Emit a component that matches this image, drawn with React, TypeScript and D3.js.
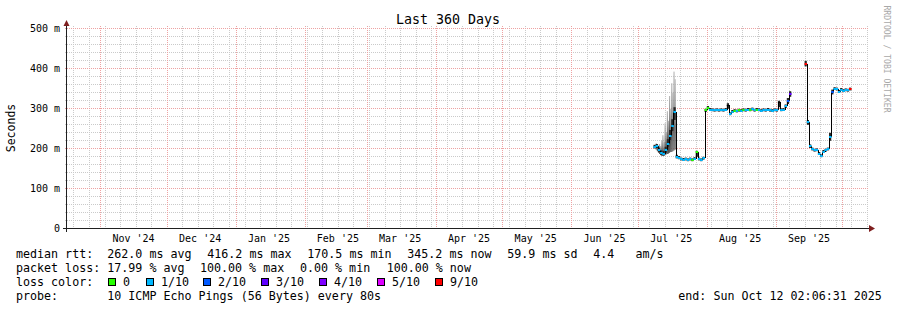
import React from "react";
import * as d3 from "d3";

const START = "2024-10-17T02:06:31Z";
const END = "2025-10-12T02:06:31Z";

const yTickValues = [0, 100, 200, 300, 400, 500];
const yTickLabels = ["0", "100 m", "200 m", "300 m", "400 m", "500 m"];
const yMinorGrid = [20, 40, 60, 80, 120, 140, 160, 180, 220, 240, 260, 280, 320, 340, 360, 380, 420, 440, 460, 480];
const monthStarts = [
  "2024-11-01", "2024-12-01", "2025-01-01", "2025-02-01", "2025-03-01", "2025-04-01",
  "2025-05-01", "2025-06-01", "2025-07-01", "2025-08-01", "2025-09-01", "2025-10-01",
];
const monthLabels = ["Nov '24", "Dec '24", "Jan '25", "Feb '25", "Mar '25", "Apr '25", "May '25", "Jun '25", "Jul '25", "Aug '25", "Sep '25"];

const sampleDates = [
  "2025-07-08", "2025-07-09", "2025-07-10", "2025-07-11", "2025-07-12", "2025-07-13", "2025-07-14", "2025-07-15", "2025-07-16", "2025-07-17",
  "2025-07-18", "2025-07-19", "2025-07-20", "2025-07-21", "2025-07-22", "2025-07-23", "2025-07-24", "2025-07-25", "2025-07-26", "2025-07-27",
  "2025-07-28", "2025-07-29", "2025-07-30",
  "2025-07-31", "2025-08-01", "2025-08-02", "2025-08-03", "2025-08-04", "2025-08-05", "2025-08-06", "2025-08-07", "2025-08-08", "2025-08-09",
  "2025-08-10", "2025-08-11", "2025-08-12", "2025-08-13", "2025-08-14", "2025-08-15", "2025-08-16", "2025-08-17", "2025-08-18", "2025-08-19",
  "2025-08-20", "2025-08-21", "2025-08-22", "2025-08-23", "2025-08-24", "2025-08-25", "2025-08-26", "2025-08-27", "2025-08-28", "2025-08-29",
  "2025-08-30", "2025-08-31", "2025-09-01", "2025-09-02", "2025-09-03", "2025-09-04", "2025-09-05", "2025-09-06", "2025-09-07",
  "2025-09-14", "2025-09-15", "2025-09-16", "2025-09-17", "2025-09-18", "2025-09-19", "2025-09-20", "2025-09-21", "2025-09-22", "2025-09-23",
  "2025-09-24", "2025-09-25", "2025-09-26", "2025-09-27", "2025-09-28", "2025-09-29", "2025-09-30", "2025-10-01", "2025-10-02", "2025-10-03",
  "2025-10-04",
];
const medianMs = [
  203, 205, 195, 188, 186, 194, 210, 230, 255, 290,
  178, 176, 172, 171, 172, 170, 172, 170, 173, 190,
  172, 170, 174,
  294, 301, 296, 295, 294, 295, 294, 295, 294, 296,
  308, 285, 291, 293, 292, 294, 293, 295, 294, 296,
  295, 297, 294, 296, 295, 293, 295, 294, 296, 294,
  293, 295, 294, 314, 295, 296, 304, 318, 336,
  410, 265, 205, 197, 194, 195, 186, 180, 191, 194,
  197, 228, 340, 348, 347, 341, 346, 343, 345, 344,
  347,
];
const bandLowMs = [
  199, 200, 190, 183, 181, 188, 203, 220, 242, 270,
  174, 172, 169, 168, 169, 167, 169, 167, 170, 178,
  169, 167, 171,
  290, 297, 293, 292, 291, 292, 291, 292, 291, 293,
  298, 282, 288, 290, 289, 291, 290, 292, 291, 293,
  292, 294, 291, 293, 292, 290, 292, 291, 293, 291,
  290, 292, 291, 302, 292, 293, 300, 310, 328,
  404, 258, 200, 194, 191, 192, 183, 177, 188, 191,
  194, 218, 334, 345, 344, 338, 343, 340, 342, 341,
  344,
];
const bandHighMs = [
  208, 210, 201, 194, 193, 203, 222, 245, 272, 302,
  183, 180, 176, 175, 176, 174, 176, 174, 177, 193,
  176, 174, 178,
  298, 305, 300, 299, 298, 299, 298, 299, 298, 300,
  312, 289, 295, 297, 296, 298, 297, 299, 298, 300,
  299, 301, 298, 300, 299, 297, 299, 298, 300, 298,
  297, 299, 298, 318, 299, 300, 309, 325, 342,
  418, 270, 209, 201, 198, 199, 190, 184, 195, 198,
  201, 238, 346, 352, 351, 345, 350, 347, 349, 348,
  351,
];
const lossTenths = [
  1, 1, 1, 1, 1, 1, 1, 1, 1, 1,
  1, 1, 1, 1, 1, 1, 1, 0, 1, 0,
  1, 1, 1,
  0, 0, 1, 1, 1, 1, 1, 1, 1, 1,
  -1, 1, 1, 0, 1, 0, 1, 0, 1, 1,
  0, 1, 1, 0, 1, 1, 1, 1, 1, 1,
  1, 1, 1, -1, 1, 1, 1, 2, 3,
  9, 1, 1, 1, 1, 1, 1, 1, 1, 1,
  1, 1, 2, 1, 1, 1, 1, 1, 1, 1,
  9,
];

// wide smoke spikes (12-hour steps) in early July
const spikeTimes = [
  "2025-07-09T00:00Z", "2025-07-09T12:00Z", "2025-07-10T00:00Z", "2025-07-10T12:00Z",
  "2025-07-11T00:00Z", "2025-07-11T12:00Z", "2025-07-12T00:00Z", "2025-07-12T12:00Z",
  "2025-07-13T00:00Z", "2025-07-13T12:00Z", "2025-07-14T00:00Z", "2025-07-14T12:00Z",
  "2025-07-15T00:00Z", "2025-07-15T12:00Z", "2025-07-16T00:00Z", "2025-07-16T12:00Z",
  "2025-07-17T00:00Z", "2025-07-17T12:00Z",
];
const spikeLowMs = [196, 192, 188, 185, 182, 180, 180, 181, 182, 184, 185, 186, 188, 190, 190, 192, 194, 196];
const spikeHighMs = [212, 208, 206, 210, 205, 218, 232, 215, 262, 240, 292, 268, 330, 298, 362, 338, 391, 372];

const legendLevels = ["0", "1/10", "2/10", "3/10", "4/10", "5/10", "9/10"];
const legendColors = ["#26ff00", "#00b8ff", "#0059ff", "#5e00ff", "#7e00ff", "#dd00ff", "#ff0000"];
const lossColor: Record<number, string> = { 0: "#26ff00", 1: "#00b8ff", 2: "#0059ff", 3: "#5e00ff", 4: "#7e00ff", 5: "#dd00ff", 9: "#ff0000" };

const DAY = 86400000;
const HALF = DAY / 2;
const parse = (d: string) => new Date(d + "T00:00:00Z");

export default function App() {
  const W = 897, H = 310;
  const x = d3.scaleUtc().domain([new Date(START), new Date(END)]).range([67, 867]);
  const y = d3.scaleLinear().domain([0, 500]).range([228, 28]);
  const px = (v: number) => Math.round(v) + 0.5;
  const mono = "'DejaVu Sans Mono', monospace";
  const weeks = d3.utcSunday.range(new Date(START), new Date(END));
  const months = monthStarts.map(parse);

  const minorCol = "#cacaca";
  const majorCol = "#eea2a2";

  const legendX = [108, 146, 203, 261, 319, 377, 435];

  return (
    <svg width={W} height={H} viewBox={`0 0 ${W} ${H}`} style={{ position: "absolute", left: 0, top: 0, background: "#fff" }}
      fontFamily={mono}>
      <defs>
        <linearGradient id="smoke" x1="0" y1="0" x2="0" y2="1">
          <stop offset="0%" stopColor="#b8b8b8" />
          <stop offset="35%" stopColor="#8c8c8c" />
          <stop offset="70%" stopColor="#3e3e3e" />
          <stop offset="100%" stopColor="#5a5a5a" />
        </linearGradient>
      </defs>
      <rect x={0} y={0} width={W} height={H} fill="#fff" />

      {/* minor grid */}
      <g stroke={minorCol} strokeWidth={1} strokeDasharray="1,1" shapeRendering="crispEdges">
        {yMinorGrid.map((v) => (
          <line key={"hm" + v} x1={65} x2={869} y1={px(y(v))} y2={px(y(v))} />
        ))}
        {weeks.map((d) => (
          <line key={"vm" + d.getTime()} x1={px(x(d))} x2={px(x(d))} y1={26} y2={230} />
        ))}
      </g>
      {/* major grid */}
      <g stroke={majorCol} strokeWidth={1} strokeDasharray="1,1" shapeRendering="crispEdges">
        {yTickValues.filter((v) => v > 0).map((v) => (
          <line key={"hM" + v} x1={65} x2={869} y1={px(y(v))} y2={px(y(v))} />
        ))}
        {months.map((d) => (
          <line key={"vM" + d.getTime()} x1={px(x(d))} x2={px(x(d))} y1={26} y2={230} />
        ))}
      </g>

      {/* smoke spikes */}
      <g>
        {spikeTimes.map((d, i) => {
          const t = new Date(d);
          const x0 = x(t), x1 = x(new Date(t.getTime() + HALF));
          return (
            <rect key={"sp" + d} x={x0} width={x1 - x0} y={y(spikeHighMs[i])} height={y(spikeLowMs[i]) - y(spikeHighMs[i])} fill="url(#smoke)" />
          );
        })}
      </g>
      {/* dense smoke band around median */}
      <g fill="#262626">
        {sampleDates.map((d, i) => {
          const t = parse(d);
          const x0 = x(t), x1 = x(new Date(t.getTime() + DAY));
          return (
            <rect key={"b" + d} x={x0} width={x1 - x0} y={y(bandHighMs[i])} height={y(bandLowMs[i]) - y(bandHighMs[i])} />
          );
        })}
      </g>

      {/* median verticals */}
      <g stroke="#000" strokeWidth={1} shapeRendering="crispEdges">
        {sampleDates.map((d, i) => {
          if (i + 1 >= sampleDates.length) return null;
          const t = parse(d), tn = parse(sampleDates[i + 1]);
          if (tn.getTime() - t.getTime() !== DAY) return null;
          const xv = px(x(tn));
          return <line key={"v" + d} x1={xv} x2={xv} y1={y(medianMs[i])} y2={y(medianMs[i + 1])} />;
        })}
      </g>
      {/* median colored by loss */}
      <g>
        {sampleDates.map((d, i) => {
          const t = parse(d);
          const x0 = x(t), x1 = x(new Date(t.getTime() + DAY));
          const l = lossTenths[i];
          const col = l < 0 ? "#000" : lossColor[l];
          const yy = Math.round(y(medianMs[i]));
          return (
            <line key={"m" + d} x1={x0} x2={x1 + 0.3} y1={l < 0 ? yy + 0.5 : yy} y2={l < 0 ? yy + 0.5 : yy}
              stroke={col} strokeWidth={l < 0 ? 1 : 2} />
          );
        })}
      </g>

      {/* axes */}
      <g stroke="#1f1f1f" strokeWidth={1} shapeRendering="crispEdges">
        <line x1={63} x2={870} y1={228.5} y2={228.5} />
        <line x1={66.5} x2={66.5} y1={232} y2={24} />
      </g>
      <polygon points="869,225 875,228.5 869,232" fill="#7f1f1f" />
      <polygon points="63.5,26 66.5,20 69.5,26" fill="#7f1f1f" />

      {/* y labels */}
      <g fontSize={10} fill="#000" textAnchor="end">
        {yTickValues.map((v, i) => (
          <text key={"yl" + v} x={60} y={y(v) + 3.6}>{yTickLabels[i]}</text>
        ))}
      </g>
      {/* x labels */}
      <g fontSize={10} fill="#000" textAnchor="middle">
        {monthLabels.map((lab, i) => (
          <text key={"xl" + i} x={x(d3.utcDay.offset(months[i], 15))} y={241.5}>{lab}</text>
        ))}
      </g>

      {/* titles */}
      <text x={448} y={24} fontSize={13.3} textAnchor="middle" fill="#000">Last 360 Days</text>
      <text transform="translate(15,128) rotate(-90)" fontSize={11.5} textAnchor="middle" fill="#000">Seconds</text>
      <text transform="translate(883.5,59) rotate(90)" fontSize={8.1} textAnchor="middle" fill="#a8a8a8">RRDTOOL / TOBI OETIKER</text>

      {/* legend */}
      <g fontSize={11.66} fill="#000">
        <text x={16} y={258}>median rtt:</text>
        <text x={107.3} y={258}>262.0 ms avg</text>
        <text x={207.3} y={258}>416.2 ms max</text>
        <text x={307.3} y={258}>170.5 ms min</text>
        <text x={407.3} y={258}>345.2 ms now</text>
        <text x={507.3} y={258}>59.9 ms sd</text>
        <text x={593.3} y={258}>4.4</text>
        <text x={635.4} y={258}>am/s</text>

        <text x={16} y={272}>packet loss:</text>
        <text x={107.3} y={272}>17.99 % avg</text>
        <text x={200} y={272}>100.00 % max</text>
        <text x={300} y={272}>0.00 % min</text>
        <text x={386.7} y={272}>100.00 % now</text>

        <text x={16} y={286}>loss color:</text>
        {legendLevels.map((lab, i) => (
          <g key={"lg" + lab}>
            <rect x={legendX[i] + 0.5} y={278.5} width={7} height={7} fill={legendColors[i]} stroke="#000" strokeWidth={1} />
            <text x={legendX[i] + 15} y={286}>{lab}</text>
          </g>
        ))}

        <text x={16} y={300}>probe:</text>
        <text x={107.3} y={300}>10 ICMP Echo Pings (56 Bytes) every 80s</text>
        <text x={678.3} y={300}>end: Sun Oct 12 02:06:31 2025</text>
      </g>
    </svg>
  );
}
